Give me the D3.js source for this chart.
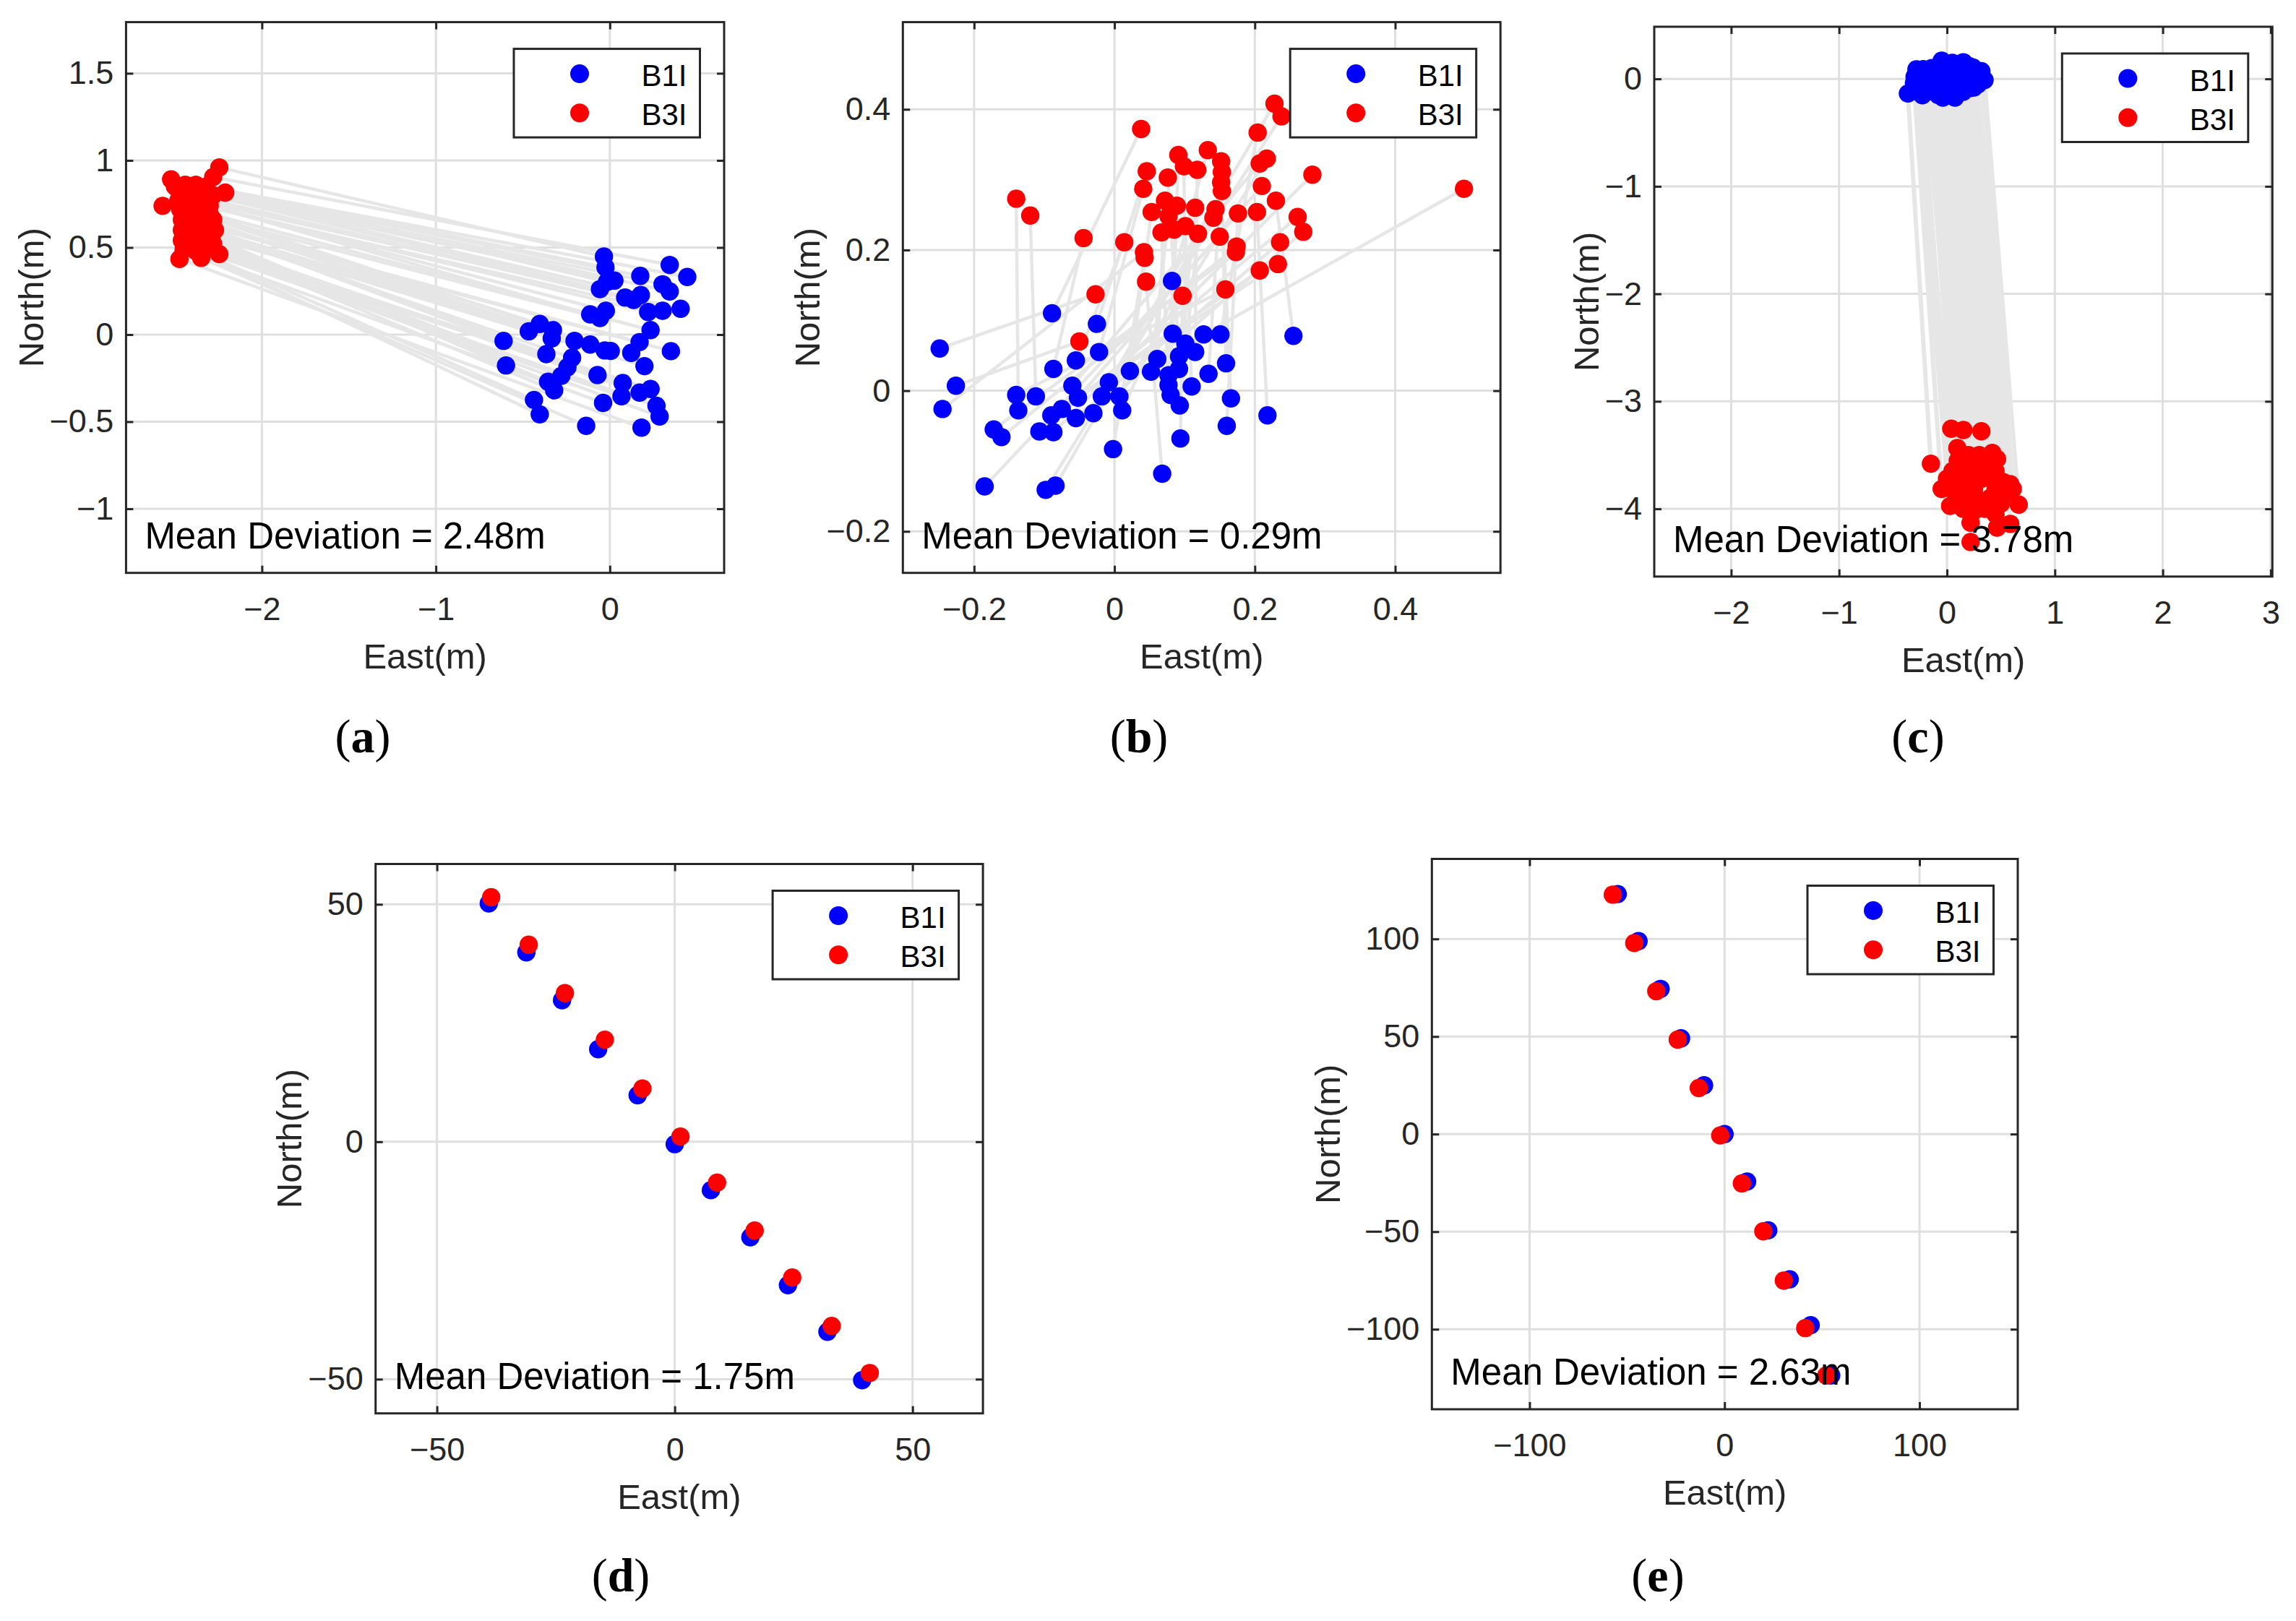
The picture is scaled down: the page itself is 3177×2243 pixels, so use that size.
<!DOCTYPE html>
<html>
<head>
<meta charset="utf-8">
<script src="https://cdn.jsdelivr.net/npm/d3@7"></script>
<style>
  body { margin: 0; background: #fff; }
  svg text { font-family: "Liberation Sans", Arial, Helvetica, sans-serif; }
</style>
</head>
<body>
<svg id="fig"></svg>
<script>
// ---- data: [East, North] in metres ----
const seriesNames = ['B1I', 'B3I'];
const meanDeviation = [2.48, 0.29, 3.78, 1.75, 2.63];
const panelTags = ['a', 'b', 'c', 'd', 'e'];

// (a)
const aB1I = [[-0.034,0.448],[0.344,0.400],[-0.025,0.386],[0.175,0.337],[0.445,0.331],[0.026,0.310],[-0.016,0.303],[0.303,0.289],[-0.057,0.261],[0.344,0.248],
  [0.178,0.227],[0.088,0.213],[0.137,0.199],[0.407,0.148],[0.303,0.137],[-0.023,0.137],[0.220,0.130],[-0.113,0.116],[-0.057,0.095],[-0.403,0.061],
  [0.234,0.026],[-0.327,0.026],[-0.466,0.019],[-0.334,-0.022],[-0.611,-0.036],[-0.203,-0.036],[0.171,-0.043],[-0.113,-0.057],[-0.029,-0.091],[0.005,-0.094],
  [0.351,-0.095],[0.123,-0.105],[-0.365,-0.112],[-0.217,-0.133],[-0.597,-0.177],[0.199,-0.181],[-0.244,-0.188],[-0.071,-0.232],[-0.279,-0.237],[-0.355,-0.271],
  [0.074,-0.278],[0.234,-0.312],[-0.320,-0.320],[0.171,-0.333],[0.067,-0.354],[-0.436,-0.375],[-0.039,-0.392],[0.268,-0.409],[-0.403,-0.458],[0.286,-0.470],
  [-0.136,-0.524],[0.182,-0.534]];
const aB3I = [[-2.245,0.960],[-2.280,0.905],[-2.522,0.891],[-2.44,0.86],[-2.38,0.86],[-2.50,0.85],[-2.32,0.85],[-2.33,0.82],[-2.39,0.82],[-2.211,0.815],
  [-2.28,0.80],[-2.47,0.80],[-2.36,0.79],[-2.42,0.78],[-2.48,0.77],[-2.39,0.76],[-2.36,0.75],[-2.30,0.74],[-2.571,0.739],[-2.47,0.72],
  [-2.40,0.72],[-2.34,0.70],[-2.43,0.69],[-2.30,0.69],[-2.46,0.66],[-2.28,0.66],[-2.40,0.65],[-2.33,0.64],[-2.44,0.63],[-2.37,0.62],
  [-2.31,0.62],[-2.46,0.60],[-2.27,0.60],[-2.35,0.60],[-2.38,0.59],[-2.31,0.58],[-2.45,0.58],[-2.42,0.56],[-2.35,0.56],[-2.29,0.56],
  [-2.46,0.54],[-2.40,0.53],[-2.34,0.52],[-2.28,0.52],[-2.43,0.51],[-2.41,0.50],[-2.45,0.49],[-2.32,0.49],[-2.38,0.48],[-2.245,0.462],
  [-2.349,0.441],[-2.474,0.434]];

// (b)
const bB1I = [[-0.249,0.060],[-0.226,0.007],[-0.245,-0.026],[-0.089,0.110],[-0.025,0.095],[-0.022,0.055],[-0.055,0.043],[-0.087,0.031],[0.022,0.028],[0.082,0.156],
  [0.083,0.081],[0.127,0.080],[0.151,0.080],[0.101,0.067],[0.115,0.055],[0.092,0.049],[0.061,0.045],[0.052,0.027],[0.077,0.022],[0.092,0.031],
  [0.159,0.039],[0.134,0.024],[0.110,0.006],[0.077,0.008],[0.080,-0.006],[0.093,-0.021],[0.166,-0.011],[0.160,-0.050],[0.218,-0.035],[0.094,-0.068],
  [0.255,0.078],[0.068,-0.118],[-0.002,-0.083],[-0.185,-0.136],[-0.098,-0.141],[-0.084,-0.135],[-0.172,-0.055],[-0.161,-0.066],[-0.140,-0.006],[-0.137,-0.028],
  [-0.112,-0.008],[-0.060,0.007],[-0.052,-0.010],[-0.090,-0.035],[-0.075,-0.026],[-0.055,-0.039],[-0.030,-0.032],[-0.107,-0.058],[-0.087,-0.059],[-0.008,0.012],
  [-0.018,-0.008],[0.007,-0.008],[0.011,-0.028]];
const bB3I = [[-0.027,0.137],[-0.050,0.070],[0.042,0.197],[0.038,0.372],[0.046,0.312],[0.041,0.287],[0.014,0.211],[-0.044,0.217],[0.053,0.254],[0.133,0.342],
  [0.091,0.335],[0.498,0.287],[0.204,0.367],[0.099,0.319],[0.118,0.314],[0.076,0.303],[0.072,0.270],[0.077,0.248],[0.089,0.263],[0.115,0.260],
  [0.152,0.326],[0.153,0.311],[0.101,0.234],[0.067,0.225],[0.085,0.229],[0.119,0.223],[0.152,0.296],[0.176,0.252],[0.203,0.254],[0.097,0.135],
  [0.230,0.270],[0.045,0.155],[0.043,0.189],[0.150,0.219],[0.141,0.246],[0.144,0.258],[0.173,0.197],[0.174,0.205],[0.158,0.144],[-0.140,0.273],
  [-0.120,0.249],[0.207,0.323],[0.210,0.291],[0.207,0.171],[0.233,0.180],[0.236,0.211],[0.269,0.226],[0.261,0.247],[0.282,0.307],[0.228,0.408],
  [0.238,0.390],[0.217,0.330],[0.153,0.284]];

// (c)
const cB1I = [[-0.362,-0.136],[-0.306,-0.040],[-0.30,0.02],[-0.283,0.088],[-0.28,-0.10],[-0.250,-0.006],[-0.228,-0.152],[-0.22,0.09],[-0.20,-0.07],[-0.194,0.061],
  [-0.183,-0.118],[-0.161,-0.028],[-0.14,0.10],[-0.116,-0.095],[-0.116,0.016],[-0.08,-0.15],[-0.072,0.083],[-0.05,0.12],[-0.049,0.169],[-0.038,-0.174],
  [-0.027,0.016],[-0.005,-0.118],[0.00,0.05],[0.018,-0.073],[0.03,-0.14],[0.040,-0.006],[0.05,0.15],[0.052,0.106],[0.074,-0.174],[0.107,0.039],
  [0.107,-0.118],[0.12,0.12],[0.15,-0.12],[0.152,0.155],[0.152,-0.051],[0.174,0.061],[0.20,0.12],[0.219,-0.085],[0.219,0.016],[0.241,0.106],
  [0.25,-0.08],[0.28,0.02],[0.286,-0.051],[0.319,0.072],[0.348,-0.011]];
const cB3I = [[-0.149,-3.580],[-0.049,-3.815],[0.00,-3.72],[0.029,-3.973],[0.040,-3.255],[0.05,-3.65],[0.05,-3.82],[0.096,-3.435],[0.10,-3.55],[0.10,-3.90],
  [0.12,-3.72],[0.15,-3.62],[0.15,-3.80],[0.15,-4.00],[0.152,-3.267],[0.20,-3.50],[0.20,-3.90],[0.219,-4.129],[0.219,-4.308],[0.22,-3.70],
  [0.25,-3.60],[0.25,-3.82],[0.25,-4.02],[0.30,-3.50],[0.30,-3.92],[0.319,-3.278],[0.32,-3.72],[0.35,-3.62],[0.35,-4.00],[0.38,-3.55],
  [0.40,-3.90],[0.42,-3.72],[0.420,-3.480],[0.45,-3.65],[0.45,-3.82],[0.45,-4.05],[0.464,-3.536],[0.464,-4.174],[0.50,-3.95],[0.52,-3.75],
  [0.55,-3.85],[0.587,-3.771],[0.587,-4.140],[0.610,-3.815],[0.665,-3.961]];

// (d)
const dB1I = [[-39.1,50.2],[-31.2,39.9],[-23.7,29.8],[-16.1,19.5],[-7.8,9.8],[0.0,-0.5],[7.6,-10.2],[15.9,-20.1],[23.8,-30.2],[32.1,-40.0],[39.4,-50.2]];
const dB3I = [[-38.6,51.5],[-30.7,41.5],[-23.1,31.3],[-14.7,21.5],[-6.8,11.2],[1.2,1.1],[8.9,-8.6],[16.8,-18.7],[24.7,-28.6],[33.0,-38.8],[41.0,-48.7]];

// (e)
const eB1I = [[-54.8,123.0],[-44.1,98.9],[-32.8,74.4],[-22.3,49.1],[-10.5,25.0],[0.0,0.0],[11.6,-24.3],[22.4,-49.3],[33.4,-74.4],[44.2,-97.9],[54.7,-123.7]];
const eB3I = [[-57.3,122.7],[-46.3,97.9],[-35.0,73.2],[-24.0,48.4],[-13.2,23.6],[-2.2,-0.7],[8.9,-25.3],[19.9,-49.8],[30.4,-75.1],[41.4,-99.4],[52.2,-123.7]];

// tick values
const aXTicks = [-2, -1, 0];
const aYTicks = [-1, -0.5, 0, 0.5, 1, 1.5];
const bXTicks = [-0.2, 0, 0.2, 0.4];
const bYTicks = [-0.2, 0, 0.2, 0.4];
const cXTicks = [-2, -1, 0, 1, 2, 3];
const cYTicks = [-4, -3, -2, -1, 0];
const dXTicks = [-50, 0, 50];
const dYTicks = [-50, 0, 50];
const eXTicks = [-100, 0, 100];
const eYTicks = [-100, -50, 0, 50, 100];

// ---- layout ----
const W = 3177, H = 2243;
const panels = [
  {box: {x0: 174.4, x1: 1002, y0: 30.6, y1: 792.7}, xDomain: [-2.781, 0.657], yDomain: [-1.368, 1.794],
   b1: aB1I, b3: aB3I, xTicks: aXTicks, yTicks: aYTicks, tagPos: [502, 1041], pairWidth: 4.5},
  {box: {x0: 1249.3, x1: 2076.2, y0: 30.6, y1: 792.7}, xDomain: [-0.3015, 0.550], yDomain: [-0.259, 0.524],
   b1: bB1I, b3: bB3I, xTicks: bXTicks, yTicks: bYTicks, tagPos: [1576, 1041], pairWidth: 4.5},
  {box: {x0: 2289, x1: 3144.3, y0: 37, y1: 797.8}, xDomain: [-2.713, 3.016], yDomain: [-4.63, 0.485],
   b1: cB1I, b3: cB3I, xTicks: cXTicks, yTicks: cYTicks, tagPos: [2654, 1041], pairWidth: 6},
  {box: {x0: 519.7, x1: 1360.1, y0: 1195.5, y1: 1955.7}, xDomain: [-62.9, 64.8], yDomain: [-57.2, 58.5],
   b1: dB1I, b3: dB3I, xTicks: dXTicks, yTicks: dYTicks, tagPos: [859, 2202], pairWidth: 4.5},
  {box: {x0: 1981.3, x1: 2792, y0: 1188.5, y1: 1950}, xDomain: [-150.1, 150.4], yDomain: [-141, 141],
   b1: eB1I, b3: eB3I, xTicks: eXTicks, yTicks: eYTicks, tagPos: [2294, 2202], pairWidth: 4.5}
];

const colors = ['#0000ff', '#ff0000'];
const axisColor = '#262626';
const gridColor = '#dfdfdf';
const pairColor = '#e6e6e6';
const dotR = 12.7;
const fmt = d => String(d).replace('-', '\u2212');

const svg = d3.select('#fig').attr('width', W).attr('height', H);
svg.append('rect').attr('width', W).attr('height', H).attr('fill', '#fff');

function styleAxis(g) {
  g.select('.domain').remove();
  g.selectAll('.tick line').attr('stroke', axisColor).attr('stroke-width', 3);
  g.attr('font-size', 45).attr('font-family', '"Liberation Sans", Arial, sans-serif');
  g.selectAll('.tick text').attr('fill', axisColor);
}

function drawPanel(p, i) {
  const b = p.box;
  const x = d3.scaleLinear().domain(p.xDomain).range([b.x0, b.x1]);
  const y = d3.scaleLinear().domain(p.yDomain).range([b.y1, b.y0]);
  const g = svg.append('g').attr('class', 'panel-' + panelTags[i]);

  // grid
  const grid = g.append('g').attr('stroke', gridColor).attr('stroke-width', 3);
  grid.selectAll('.gx').data(p.xTicks).join('line').attr('class', 'gx')
    .attr('x1', d => x(d)).attr('x2', d => x(d)).attr('y1', b.y0).attr('y2', b.y1);
  grid.selectAll('.gy').data(p.yTicks).join('line').attr('class', 'gy')
    .attr('y1', d => y(d)).attr('y2', d => y(d)).attr('x1', b.x0).attr('x2', b.x1);

  // lines joining the two solutions of the same epoch
  g.append('g').selectAll('line').data(d3.zip(p.b1, p.b3)).join('line')
    .attr('x1', d => x(d[0][0])).attr('y1', d => y(d[0][1]))
    .attr('x2', d => x(d[1][0])).attr('y2', d => y(d[1][1]))
    .attr('stroke', pairColor).attr('stroke-width', p.pairWidth);

  // points
  [p.b1, p.b3].forEach((s, k) => {
    g.append('g').selectAll('circle').data(s).join('circle')
      .attr('cx', d => x(d[0])).attr('cy', d => y(d[1])).attr('r', dotR)
      .attr('fill', colors[k]);
  });

  // axes (ticks inward on all four sides)
  g.append('g').attr('transform', `translate(0,${b.y1})`)
    .call(d3.axisBottom(x).tickValues(p.xTicks).tickSize(-10).tickSizeOuter(0).tickPadding(33).tickFormat(fmt))
    .call(styleAxis);
  g.append('g').attr('transform', `translate(0,${b.y0})`)
    .call(d3.axisTop(x).tickValues(p.xTicks).tickSize(-10).tickSizeOuter(0).tickFormat(''))
    .call(styleAxis);
  const yAxisG = g.append('g').attr('transform', `translate(${b.x0},0)`)
    .call(d3.axisLeft(y).tickValues(p.yTicks).tickSize(-10).tickSizeOuter(0).tickPadding(17).tickFormat(fmt))
    .call(styleAxis);
  g.append('g').attr('transform', `translate(${b.x1},0)`)
    .call(d3.axisRight(y).tickValues(p.yTicks).tickSize(-10).tickSizeOuter(0).tickFormat(''))
    .call(styleAxis);

  g.append('rect')
    .attr('x', b.x0).attr('y', b.y0).attr('width', b.x1 - b.x0).attr('height', b.y1 - b.y0)
    .attr('fill', 'none').attr('stroke', axisColor).attr('stroke-width', 3);

  // axis labels
  g.append('text')
    .attr('x', (b.x0 + b.x1) / 2).attr('y', b.y1 + 132)
    .attr('text-anchor', 'middle').attr('font-size', 49).attr('fill', axisColor)
    .text('East(m)');
  const tickLeft = d3.min(yAxisG.selectAll('.tick text').nodes(), n => n.getBBox().x) + b.x0;
  g.append('text')
    .attr('transform', `translate(${tickLeft - 9},${(b.y0 + b.y1) / 2}) rotate(-90)`)
    .attr('text-anchor', 'middle').attr('font-size', 49).attr('fill', axisColor)
    .text('North(m)');

  // legend
  const lw = 257.5, lh = 122.5;
  const lx = b.x1 - 33.5 - lw, ly = b.y0 + 37;
  const leg = g.append('g').attr('transform', `translate(${lx},${ly})`);
  leg.append('rect').attr('width', lw).attr('height', lh)
    .attr('fill', '#fff').attr('stroke', axisColor).attr('stroke-width', 3);
  const rows = leg.selectAll('.row').data(seriesNames).join('g').attr('class', 'row')
    .attr('transform', (d, k) => `translate(0,${34.5 + k * 54.2})`);
  rows.append('circle').attr('cx', 91).attr('r', 13).attr('fill', (d, k) => colors[k]);
  rows.append('text').attr('x', lw - 18).attr('y', 17).attr('text-anchor', 'end')
    .attr('font-size', 42).attr('fill', '#000').text(d => d);

  // annotation
  g.append('text')
    .attr('x', b.x0 + 26).attr('y', b.y1 - 34)
    .attr('font-size', 51).attr('fill', '#000')
    .text(`Mean Deviation = ${meanDeviation[i].toFixed(2)}m`);

  // sub-figure tag
  const tag = svg.append('text')
    .attr('x', p.tagPos[0]).attr('y', p.tagPos[1])
    .attr('text-anchor', 'middle').attr('font-size', 66)
    .style('font-family', '"Liberation Serif", "Times New Roman", serif').attr('fill', '#000');
  tag.append('tspan').text('(');
  tag.append('tspan').attr('font-weight', 'bold').text(panelTags[i]);
  tag.append('tspan').text(')');
}

panels.forEach(drawPanel);
</script>
</body>
</html>
